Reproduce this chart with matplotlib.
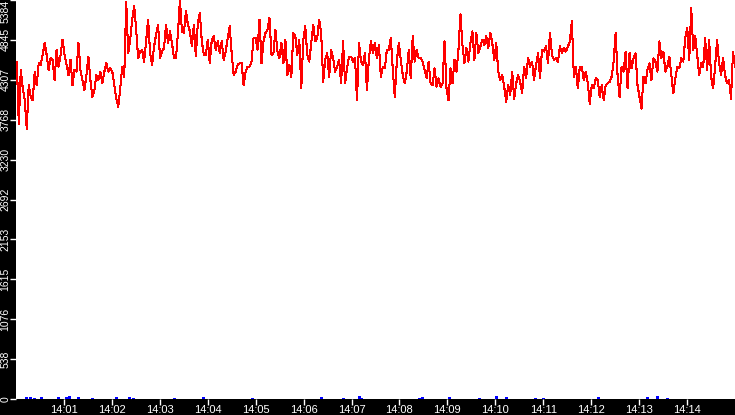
import numpy as np
import pandas as pd
import matplotlib
matplotlib.use("Agg")
import matplotlib.pyplot as plt
import matplotlib.dates as mdates

plt.rcParams['font.family'] = ['Liberation Sans', 'DejaVu Sans']

# ---- data ----
series_start = "2024-01-01 14:00:01"
series_end = "2024-01-01 14:15:00"

red_part1 = [4553, 3713, 4440, 4190, 4031, 3645, 4235, 4076, 4031, 4417, 4235, 4530, 4508, 4644, 4803,
             4644, 4440, 4599, 4576, 4303, 4712, 4485, 4644, 4848, 4644, 4508, 4372, 4576, 4235, 4440,
             4417, 4803, 4440, 4303, 4167, 4372, 4621, 4303, 4076, 4167, 4372, 4303, 4417, 4258, 4417,
             4530, 4417, 4462, 4417, 4235, 4054, 3940, 4190, 4485, 4349, 5360, 4667, 4848, 5121, 5302, 4985]
red_part2 = [4599, 4689, 4712, 4553, 4826, 5121, 4667, 4508, 4757, 4916, 5053, 4599, 4689, 4735, 5053,
             4803, 4962, 4803, 4599, 4599, 4939, 5384, 4962, 4939, 5234, 5053, 4962, 4757, 5053, 4621,
             5075, 5211, 4826, 4644, 4644, 4848, 4530, 4848, 4894, 4712, 4826, 4667, 4826, 4576, 4689,
             4871, 5030, 4667, 4372, 4417, 4508, 4530, 4530, 4235, 4417, 4485, 4485, 4553, 4871, 4871]
red_part3 = [4712, 5121, 4530, 4826, 4939, 4985, 5143, 4644, 4667, 4985, 4689, 4599, 4803, 4530, 4848,
             4372, 4508, 4349, 4939, 4894, 4644, 4848, 4190, 4848, 5030, 4644, 4553, 4803, 5053, 4826,
             4871, 5121, 4939, 4281, 4576, 4667, 4349, 4712, 4599, 4417, 4485, 4576, 4258, 4826, 4258,
             4462, 4621, 4621, 4553, 4599, 4031, 4803, 4553, 4508, 4667, 4167, 4599, 4826, 4667, 4803]
red_part4 = [4599, 4780, 4349, 4485, 4462, 4712, 4712, 4871, 4440, 4076, 4553, 4803, 4576, 4372, 4258,
             4417, 4712, 4326, 4894, 4553, 4712, 4599, 4599, 4553, 4440, 4326, 4553, 4258, 4235, 4462,
             4213, 4326, 4213, 4258, 4826, 4190, 4031, 4462, 4258, 4576, 4417, 4712, 5189, 4780, 4530,
             4735, 4553, 4803, 4962, 4576, 4939, 4667, 4757, 4848, 4780, 4894, 4735, 4939, 4803, 4576]
red_part5 = [4803, 4417, 4303, 4372, 4213, 4008, 4235, 4099, 4417, 4054, 4258, 4372, 4281, 4122, 4485,
             4326, 4599, 4485, 4553, 4303, 4508, 4667, 4326, 4712, 4689, 4757, 4530, 4939, 4644, 4576,
             4599, 4553, 4757, 4667, 4735, 4689, 4757, 4826, 5098, 4349, 4485, 4190, 4485, 4485, 4303,
             4417, 4258, 3986, 4235, 4190, 4326, 4303, 4076, 4235, 4031, 4235, 4258, 4281, 4349, 4553]
red_part6 = [4939, 4349, 4076, 4485, 4417, 4689, 4190, 4667, 4462, 4599, 4667, 4235, 4076, 3917, 4349,
             4258, 4440, 4530, 4303, 4599, 4553, 4417, 4826, 4599, 4689, 4417, 4485, 4621, 4372, 4122,
             4326, 4485, 4462, 4599, 4553, 4871, 5007, 4576, 5280, 4712, 4894, 4644, 4372, 4530, 4485,
             4871, 4440, 4848, 4349, 4190, 4485, 4848, 4530, 4372, 4599, 4372, 4258, 4303, 4054, 4689, 4485]

blue_offsets_s = [12, 18, 22, 31, 52, 62, 66, 77, 95, 125, 141, 146, 198, 234, 295, 382, 409, 429, 432,
                  504, 508, 542, 580, 601, 613, 650, 660, 729, 790, 802, 815]
blue_values = [30, 25, 20, 25, 30, 25, 35, 30, 20, 25, 30, 20, 15, 25, 20, 25, 20, 40, 20,
               20, 25, 30, 20, 35, 25, 20, 15, 30, 25, 40, 20]

y_max = 5384
y_tick_labels = ["0", "538", "1076", "1615", "2153", "2692", "3230", "3768", "4307", "4845", "5384"]
x_start = "2024-01-01 14:00:00"
x_end = "2024-01-01 14:15:00"

# ---- build ----
red_values = red_part1 + red_part2 + red_part3 + red_part4 + red_part5 + red_part6
red_times = pd.date_range(series_start, series_end, periods=len(red_values))
blue_times = pd.Timestamp(x_start) + pd.to_timedelta(blue_offsets_s, unit="s")

fig = plt.figure(figsize=(7.35, 4.15), dpi=100, facecolor="black")
ax = fig.add_axes([16 / 735, 16 / 415, 1 - 16 / 735, 1 - 16 / 415])
ax.set_facecolor("white")

ax.vlines(blue_times, 0, blue_values, color="#0000ff", linewidth=0.75, antialiased=False, zorder=2)
ax.plot(red_times, red_values, color="#ff0000", linewidth=0.75, antialiased=False, zorder=3)

ax.set_xlim(pd.Timestamp(x_start), pd.Timestamp(x_end))
ax.set_ylim(0, y_max)

for s in ax.spines.values():
    s.set_visible(False)

ax.xaxis.set_major_locator(mdates.MinuteLocator(byminute=range(1, 15)))
ax.xaxis.set_major_formatter(mdates.DateFormatter("%H:%M"))
ax.tick_params(axis="x", colors="white", length=4, width=1, direction="out", pad=0.5, labelsize=8)

ax.set_yticks(np.linspace(0, y_max, len(y_tick_labels)))
ax.set_yticklabels(y_tick_labels, rotation=90, va="center", ha="right")
ax.tick_params(axis="y", colors="white", length=4, width=1, direction="out", pad=0, labelsize=7.5)
ax.get_yticklabels()[-1].set_va("top")

fig.savefig("out.png", dpi=100, facecolor="black")
